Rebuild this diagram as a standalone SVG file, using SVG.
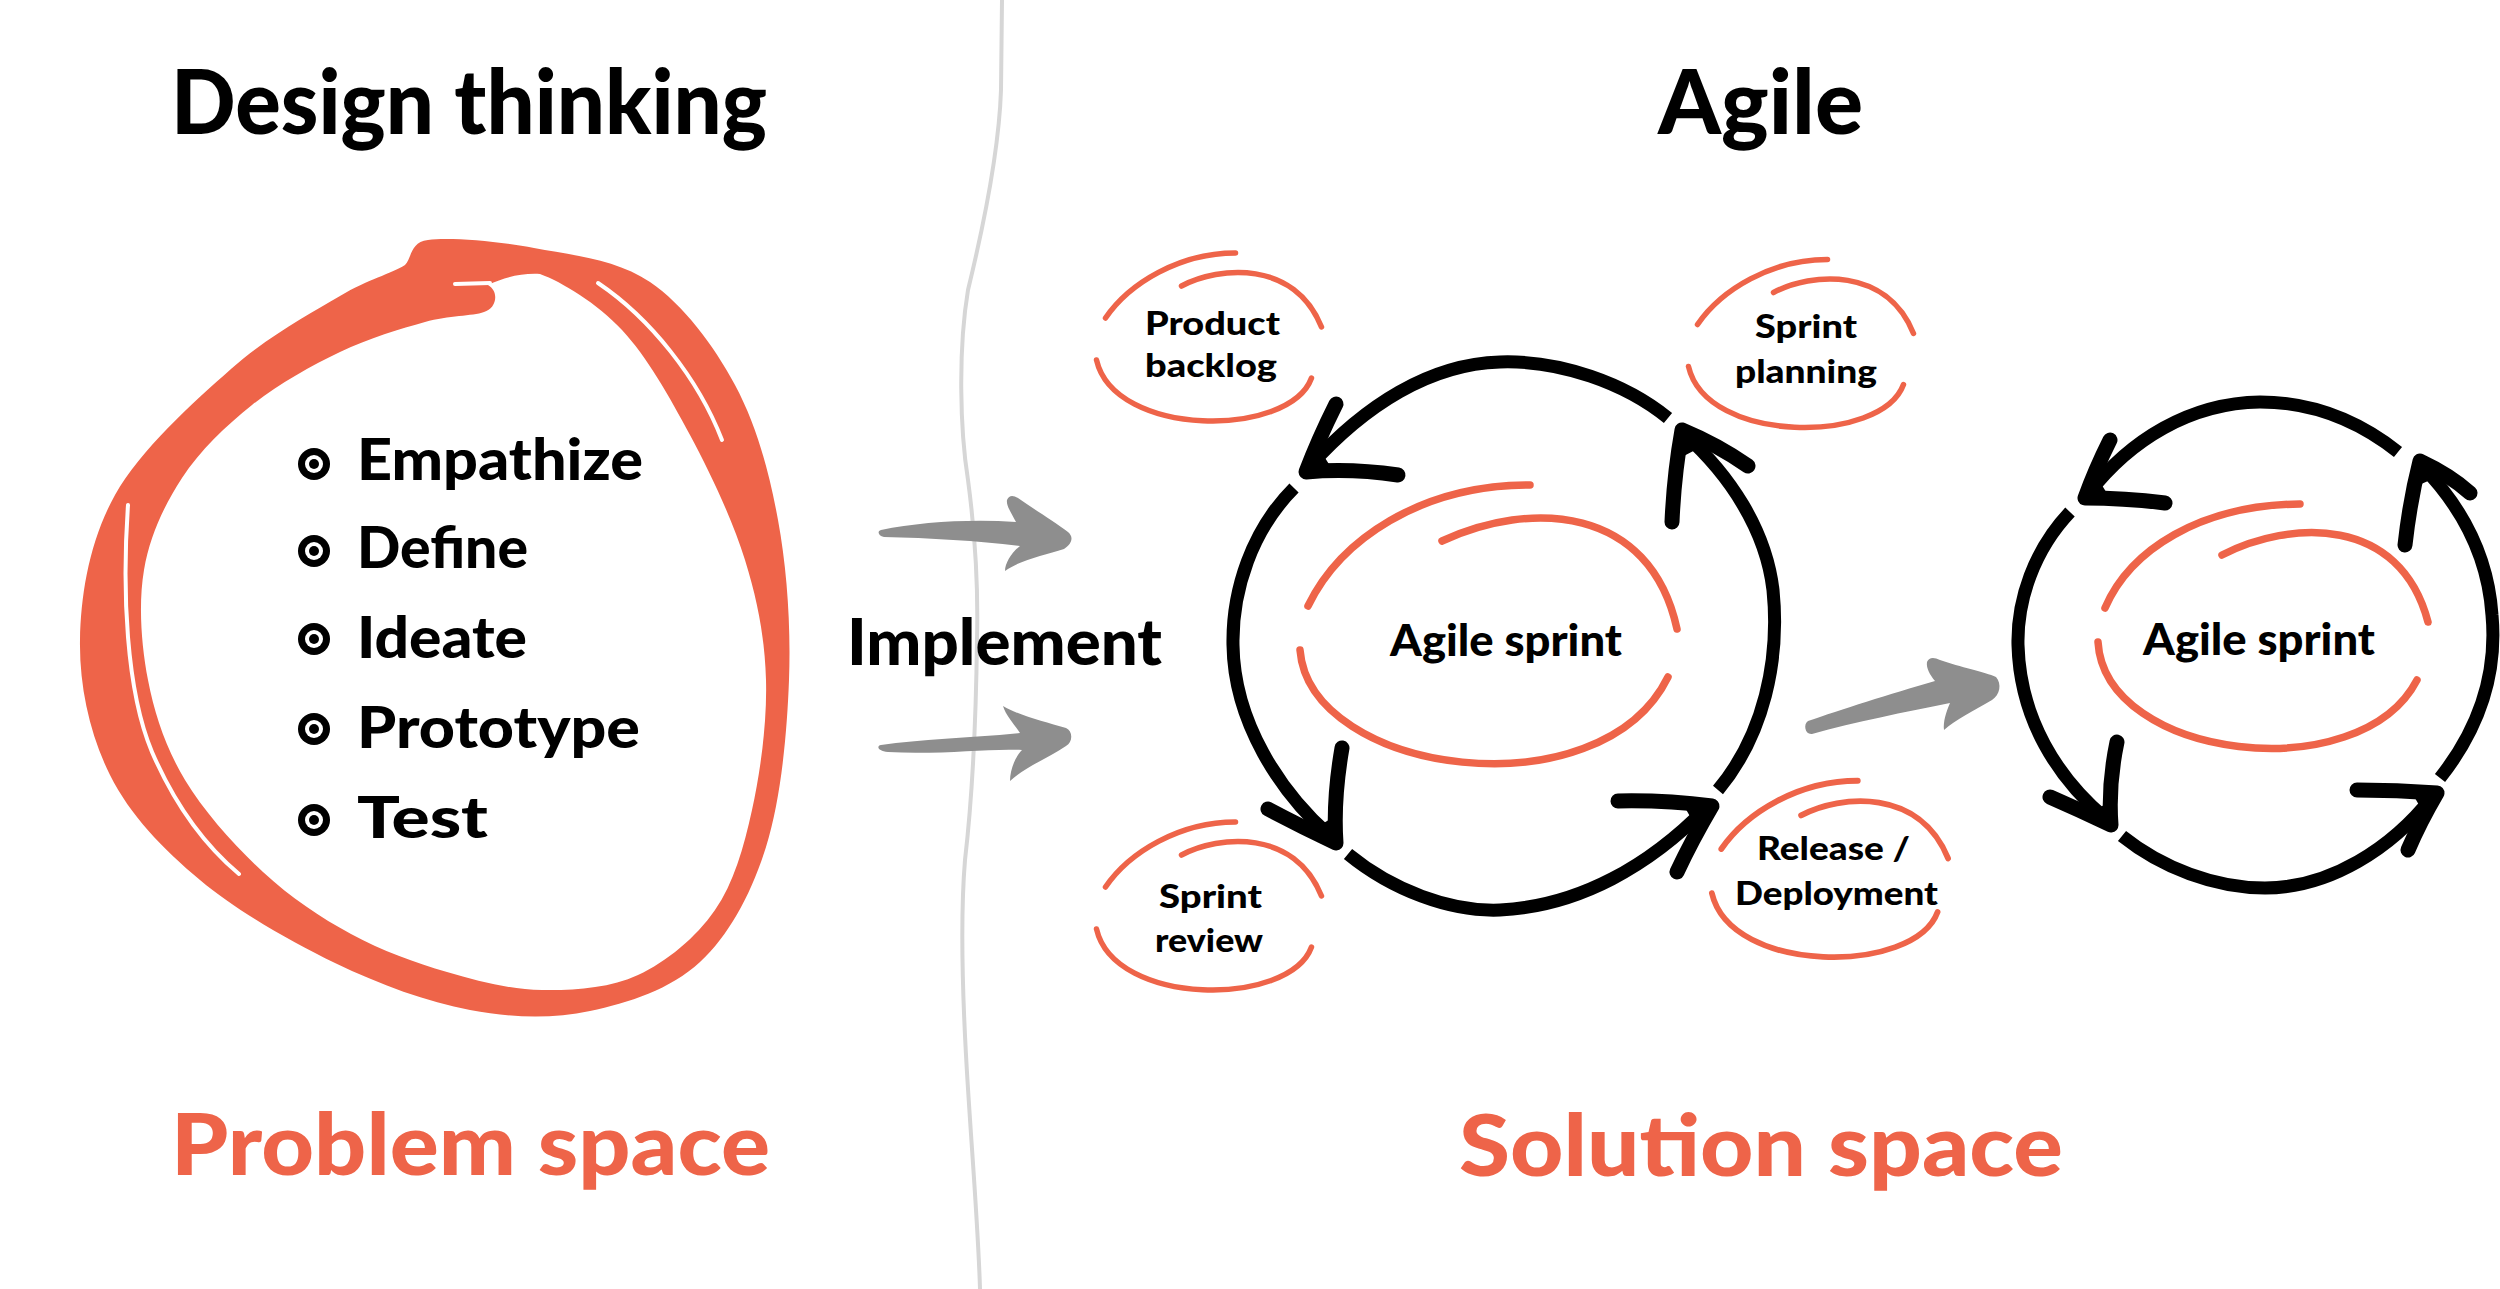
<svg xmlns="http://www.w3.org/2000/svg" xmlns:xlink="http://www.w3.org/1999/xlink" width="2500" height="1289" viewBox="0 0 2500 1289">
<style>
.t{font-family:Lato,"Open Sans","Liberation Sans",sans-serif;font-weight:900;fill:#000}
.h{font-size:89px}
.sp{font-size:86px;fill:#EE6449}
.b{font-size:57px}
.lb{font-size:32px}
.ag{font-size:43px}
.rarc{fill:none;stroke:#EE6449;stroke-linecap:round}
.la{stroke-width:5.5}
.ca{stroke-width:7.5}
.ring{fill:none;stroke:#000;stroke-width:13;stroke-linecap:butt}
.head{fill:none;stroke:#000;stroke-width:15;stroke-linecap:round;stroke-linejoin:round}
.tip{fill:#000;stroke:#000;stroke-width:6;stroke-linejoin:round}
.garrow{fill:#8E8E8E}
.gap{fill:none;stroke:#fff;stroke-width:4;stroke-linecap:round}
</style>
<defs>
<g id="lblc">
<path class="rarc la" d="M -104 -20 C -80 -55 -30 -85 26 -85"/>
<path class="rarc la" d="M -28 -52 C 10 -72 85 -78 112 -11"/>
<path class="rarc la" d="M -113 22 C -95 100 80 100 102 40"/>
</g>
<g id="bul">
<circle r="16" fill="#000"/>
<circle r="9" fill="#fff"/>
<circle r="5" fill="#000"/>
</g>
</defs>
<rect width="2500" height="1289" fill="#fff"/>

<path id="divider" d="M 1002 0 L 1001 90 C 999 150 985 220 968 290 C 958 350 960 430 968 480 C 976 540 978 600 977 640 C 976 720 972 800 965 860 C 960 920 963 1000 966 1055 C 970 1130 978 1220 980 1289" fill="none" stroke="#D6D6D6" stroke-width="4"/>

<g id="titles">
<text class="t h" x="171" y="134" textLength="596" lengthAdjust="spacingAndGlyphs">Design thinking</text>
<text class="t h" x="1658" y="134" textLength="205" lengthAdjust="spacingAndGlyphs">Agile</text>
<text class="t sp" x="171" y="1175" textLength="599" lengthAdjust="spacingAndGlyphs">Problem space</text>
<text class="t sp" x="1459" y="1176" textLength="604" lengthAdjust="spacingAndGlyphs">Solution space</text>
</g>

<g id="design-thinking-loop">
<path fill="#EE6449" fill-rule="evenodd" d="M 428 240 C 449.5 237.2 497 241 534 248 C 571 255 616.5 259.2 650 282 C 683.5 304.8 713.7 345.3 735 385 C 756.3 424.7 769 470.8 778 520 C 787 569.2 791 625.5 789 680 C 787 734.5 780.8 800 766 847 C 751.2 894 729.3 934.7 700 962 C 670.7 989.3 628.3 1003 590 1011 C 551.7 1019 512.5 1018 470 1010 C 427.5 1002 380 984.7 335 963 C 290 941.3 237.5 911.3 200 880 C 162.5 848.7 130 815 110 775 C 90 735 79.2 686.7 80 640 C 80.8 593.3 89.8 540.2 115 495 C 140.2 449.8 193.5 402.2 231 369 C 268.5 335.8 311 313.3 340 296 C 369 278.7 390.3 274.3 405 265 C 412 258 410 242 428 240 Z M 540 274 C 562 282 597 303.2 622 330 C 647 356.8 669.5 396.7 690 435 C 710.5 473.3 732.3 519.2 745 560 C 757.7 600.8 764.8 638.3 766 680 C 767.2 721.7 760.5 771.7 752 810 C 743.5 848.3 734 882.5 715 910 C 696 937.5 666.8 961.7 638 975 C 609.2 988.3 573.8 990.5 542 990 C 510.2 989.5 478.8 981.3 447 972 C 415.2 962.7 381.7 950.7 351 934 C 320.3 917.3 290.7 897.7 263 872 C 235.3 846.3 204.2 812 185 780 C 165.8 748 154.8 715 148 680 C 141.2 645 138.3 603.7 144 570 C 149.7 536.3 164 505.5 182 478 C 200 450.5 225.7 426 252 405 C 278.3 384 311.2 365.8 340 352 C 368.8 338.2 401 328.7 425 322 C 449 315.3 472.2 316.3 484 312 C 496 309 500 292 488 285 C 505 277 522 273 540 274 Z"/>
<path class="gap" d="M 598 283 C 650 318 698 378 722 440"/>
<path class="gap" d="M 128 505 C 122 590 126 690 152 752 C 178 812 208 848 239 874"/>
<path class="gap" stroke-width="3.5" d="M 455 284 L 490 283"/>
</g>

<g id="steps">
<use xlink:href="#bul" x="314" y="464"/>
<text class="t b" x="357" y="480" textLength="286" lengthAdjust="spacingAndGlyphs">Empathize</text>
<use xlink:href="#bul" x="314" y="551"/>
<text class="t b" x="357" y="568" textLength="171" lengthAdjust="spacingAndGlyphs">Define</text>
<use xlink:href="#bul" x="314" y="639"/>
<text class="t b" x="357" y="658" textLength="170" lengthAdjust="spacingAndGlyphs">Ideate</text>
<use xlink:href="#bul" x="314" y="729"/>
<text class="t b" x="357" y="748" textLength="283" lengthAdjust="spacingAndGlyphs">Prototype</text>
<use xlink:href="#bul" x="314" y="820"/>
<text class="t b" x="357" y="838" textLength="131" lengthAdjust="spacingAndGlyphs">Test</text>
</g>

<g id="connectors">
<path class="garrow" d="M 881 530 C 920 522 970 519 1016 522 C 1012 514 1006 506 1007 500 C 1009 495 1013 495 1018 498 C 1035 510 1055 522 1068 532 C 1074 537 1072 544 1064 549 C 1045 555 1020 560 1005 571 C 1005 563 1012 552 1020 546 C 980 541 930 538 884 537 C 878 536 877 531 881 530 Z"/>
<path class="garrow" d="M 881 745 C 920 739 970 738 1020 733 C 1015 725 1006 716 1003 706 C 1020 716 1045 722 1066 728 C 1073 731 1073 742 1066 746 C 1050 757 1025 767 1010 781 C 1010 770 1015 757 1022 750 C 990 748 940 755 888 752 C 878 751 876 746 881 745 Z"/>
<path class="garrow" d="M 1808 721 C 1840 710 1890 694 1935 681 C 1930 675 1926 668 1927 662 C 1929 657 1934 657 1940 660 C 1960 667 1985 672 1996 677 C 2002 684 2000 695 1992 700 C 1975 710 1955 720 1944 730 C 1943 722 1946 712 1950 703 C 1905 712 1855 722 1812 734 C 1805 735 1803 724 1808 721 Z"/>
</g>
<text id="implement" class="t" font-size="65" x="847" y="665" textLength="315" lengthAdjust="spacingAndGlyphs">Implement</text>

<g id="sprint-cycle-1">
<path class="ring" d="M 1668 418 C 1625 383 1560 360 1500 362 C 1430 364 1365 405 1310 466"/>
<path class="head" d="M 1336 404 Q 1318 440 1306 472 Q 1350 468 1398 475"/>
<path class="tip" d="M 1306 472 L 1316 449 L 1331 473 Z"/>
<path class="ring" d="M 1294 488 C 1252 530 1232 590 1233 645 C 1234 722 1280 792 1330 836"/>
<path class="head" d="M 1342 748 Q 1333 800 1336 843 Q 1300 826 1268 809"/>
<path class="tip" d="M 1336 843 L 1338 818 L 1314 832 Z"/>
<path class="ring" d="M 1348 854 C 1392 890 1450 912 1500 910 C 1580 906 1650 865 1706 808"/>
<path class="head" d="M 1618 801 Q 1665 800 1712 806 Q 1692 840 1677 872"/>
<path class="tip" d="M 1712 806 L 1687 805 L 1700 828 Z"/>
<path class="ring" d="M 1718 790 C 1764 735 1780 660 1773 590 C 1766 530 1730 475 1684 434"/>
<path class="head" d="M 1672 522 Q 1674 475 1682 430 Q 1718 445 1748 466"/>
<path class="tip" d="M 1682 430 L 1679 455 L 1704 442 Z"/>
<path class="rarc ca" d="M 1308 606 C 1340 540 1420 485 1530 485"/>
<path class="rarc ca" d="M 1442 541 C 1530 500 1650 505 1677 629"/>
<path class="rarc ca" d="M 1300 650 C 1310 775 1600 815 1668 677"/>
<text class="t ag" x="1390" y="656" textLength="232" lengthAdjust="spacingAndGlyphs">Agile sprint</text>
</g>

<g id="sprint-cycle-2">
<path class="ring" stroke-width="12" d="M 2398 452 C 2355 418 2310 402 2260 402 C 2190 403 2130 440 2089 493"/>
<path class="head" stroke-width="14" d="M 2110 440 Q 2095 470 2085 498 Q 2125 498 2165 503"/>
<path class="tip" d="M 2085 498 L 2094 478 L 2107 499 Z"/>
<path class="ring" stroke-width="12" d="M 2070 512 C 2034 550 2017 600 2018 645 C 2020 720 2058 778 2105 818"/>
<path class="head" stroke-width="14" d="M 2117 742 Q 2108 785 2111 825 Q 2080 810 2050 797"/>
<path class="tip" d="M 2111 825 L 2113 803 L 2091 816 Z"/>
<path class="ring" stroke-width="12" d="M 2122 836 C 2162 868 2215 888 2265 888 C 2330 888 2392 848 2432 797"/>
<path class="head" stroke-width="14" d="M 2357 790 Q 2397 790 2437 793 Q 2420 822 2408 850"/>
<path class="tip" d="M 2437 793 L 2415 792 L 2427 813 Z"/>
<path class="ring" stroke-width="12" d="M 2440 778 C 2482 725 2497 670 2492 615 C 2488 555 2460 505 2422 466"/>
<path class="head" stroke-width="14" d="M 2405 545 Q 2410 500 2420 461 Q 2450 475 2470 493"/>
<path class="tip" d="M 2420 461 L 2416 483 L 2439 473 Z"/>
<path class="rarc ca" d="M 2105 608 C 2130 550 2200 505 2300 504"/>
<path class="rarc ca" d="M 2222 555 C 2290 520 2400 515 2428 622"/>
<path class="rarc ca" d="M 2098 642 C 2105 760 2360 790 2417 680"/>
<text class="t ag" x="2143" y="655" textLength="232" lengthAdjust="spacingAndGlyphs">Agile sprint</text>
</g>

<g id="product-backlog">
<use xlink:href="#lblc" transform="translate(1209.5,338)"/>
<text class="t lb" x="1145" y="335" textLength="135" lengthAdjust="spacingAndGlyphs">Product</text>
<text class="t lb" x="1145" y="377" textLength="132" lengthAdjust="spacingAndGlyphs">backlog</text>
</g>
<g id="sprint-planning">
<use xlink:href="#lblc" transform="translate(1801.5,344.5)"/>
<text class="t lb" x="1755" y="338" textLength="102" lengthAdjust="spacingAndGlyphs">Sprint</text>
<text class="t lb" x="1735" y="383" textLength="142" lengthAdjust="spacingAndGlyphs">planning</text>
</g>
<g id="sprint-review">
<use xlink:href="#lblc" transform="translate(1209.5,907)"/>
<text class="t lb" x="1159" y="908" textLength="103" lengthAdjust="spacingAndGlyphs">Sprint</text>
<text class="t lb" x="1155" y="952" textLength="108" lengthAdjust="spacingAndGlyphs">review</text>
</g>
<g id="release-deployment">
<use xlink:href="#lblc" transform="translate(1830.5,870) scale(1.05)"/>
<text class="t lb" x="1757" y="860" textLength="153" lengthAdjust="spacingAndGlyphs">Release /</text>
<text class="t lb" x="1735" y="905" textLength="203" lengthAdjust="spacingAndGlyphs">Deployment</text>
</g>
</svg>
